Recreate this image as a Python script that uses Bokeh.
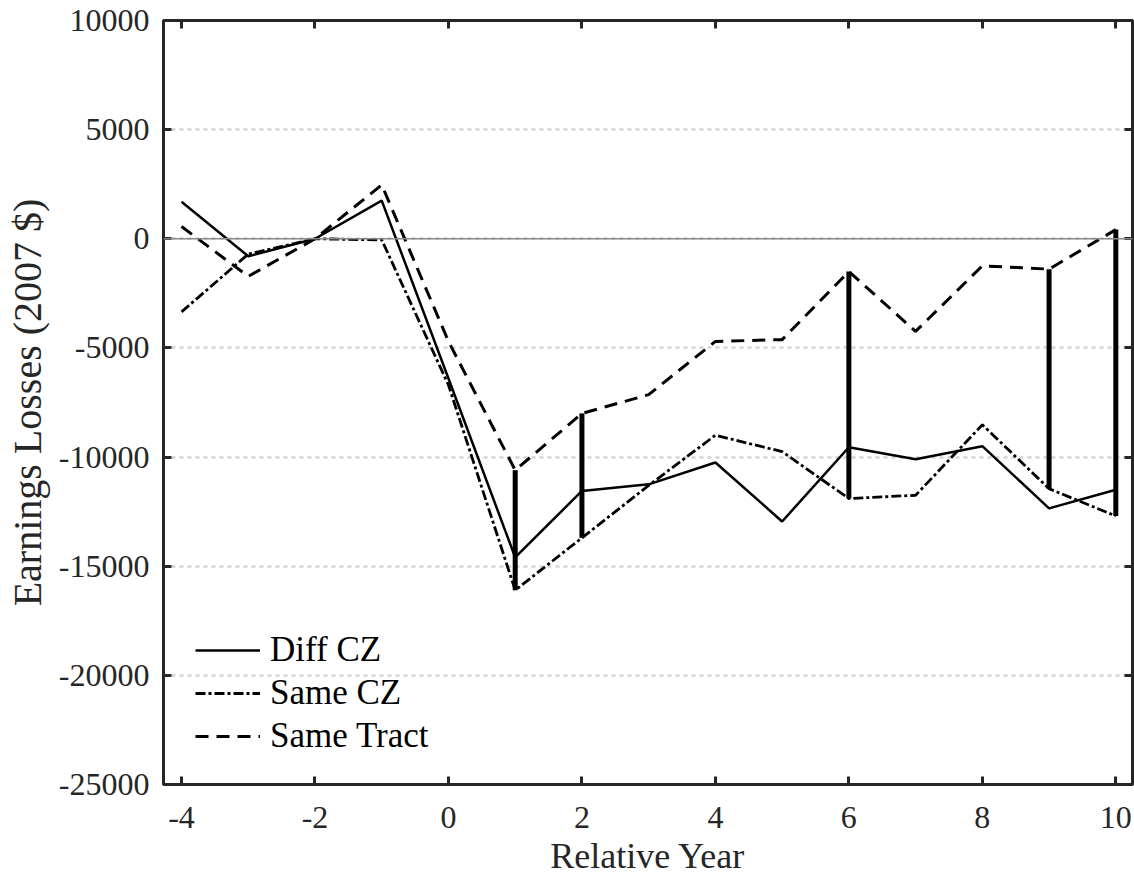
from bokeh.plotting import figure
from bokeh.models import Range1d, LinearAxis, Span, Legend, LegendItem, FixedTicker
from bokeh.embed import file_html
from bokeh.resources import INLINE

# ---- data ----
years = [-4, -3, -2, -1, 0, 1, 2, 3, 4, 5, 6, 7, 8, 9, 10]
diff_cz = [1700, -800, 0, 1750, -6400, -14600, -11550, -11250, -10250, -12950,
           -9550, -10100, -9500, -12350, -11500]
same_cz = [-3350, -700, 0, -50, -6700, -16100, -13700, -11300, -9000, -9750,
           -11900, -11750, -8520, -11450, -12700]
same_tract = [560, -1720, 0, 2470, -4700, -10600, -8000, -7140, -4700, -4620,
              -1500, -4240, -1240, -1390, 420]
sig_years = [1, 2, 6, 9, 10]

x_ticks = [-4, -2, 0, 2, 4, 6, 8, 10]
y_ticks = [-25000, -20000, -15000, -10000, -5000, 0, 5000, 10000]
x_tick_labels = [str(v) for v in x_ticks]
y_tick_labels = [str(v) for v in y_ticks]

FONT = "Liberation Serif"
TXT = "#262626"
FS = "32px"

p = figure(width=1134, height=878, output_backend="svg", toolbar_location=None,
           x_range=Range1d(-4.27, 10.25), y_range=Range1d(-25000, 10000),
           min_border_left=163, min_border_right=2, min_border_top=20,
           min_border_bottom=94, x_axis_label="Relative Year",
           y_axis_label="Earnings Losses (2007 $)")
p.background_fill_color = "white"
p.border_fill_color = "white"
p.outline_line_color = TXT
p.outline_line_width = 3
p.outline_line_alpha = 1

p.xgrid.grid_line_color = None
p.ygrid.grid_line_color = "#d4d4d4"
p.ygrid.grid_line_width = 2.5
p.ygrid.grid_line_dash = "4 4"
p.ygrid.ticker = FixedTicker(ticks=y_ticks)

p.add_layout(Span(location=0, dimension="width", line_color="#8a8a8a", line_width=1.5))

def style_axis(ax, ticks, labels, show):
    ax.ticker = FixedTicker(ticks=ticks)
    ax.major_label_overrides = {t: (l if show else "") for t, l in zip(ticks, labels)}
    ax.axis_line_color = TXT
    ax.axis_line_width = 3
    ax.major_tick_line_color = TXT
    ax.major_tick_line_width = 3
    ax.major_tick_in = 8
    ax.major_tick_out = 0
    ax.minor_tick_line_color = None
    ax.major_label_text_font = FONT
    ax.major_label_text_font_size = FS if show else "0px"
    ax.major_label_text_color = TXT
    ax.axis_label_text_font = FONT
    ax.axis_label_text_font_size = FS
    ax.axis_label_text_font_style = "normal"
    ax.axis_label_text_color = TXT

style_axis(p.xaxis[0], x_ticks, x_tick_labels, True)
style_axis(p.yaxis[0], y_ticks, y_tick_labels, True)
p.xaxis[0].major_label_standoff = 22
p.xaxis[0].axis_label_standoff = 5
p.xaxis[0].axis_label_text_font_size = "36px"
p.yaxis[0].major_label_standoff = 14
p.yaxis[0].axis_label_standoff = 6
p.yaxis[0].axis_label_text_font_size = "40px"

top = LinearAxis()
right = LinearAxis()
style_axis(top, x_ticks, x_tick_labels, False)
style_axis(right, y_ticks, y_tick_labels, False)
top.major_label_standoff = 0
right.major_label_standoff = 0
p.add_layout(top, "above")
p.add_layout(right, "right")

# significance bars between Same CZ and Same Tract
bx = [years.index(v) for v in sig_years]
p.segment(x0=sig_years, x1=sig_years,
          y0=[same_cz[i] for i in bx], y1=[same_tract[i] for i in bx],
          line_color="black", line_width=5)

r1 = p.line(years, diff_cz, line_color="black", line_width=2.5)
r2 = p.line(years, same_cz, line_color="black", line_width=2.8, line_dash="10 3 3 3")
r3 = p.line(years, same_tract, line_color="black", line_width=3, line_dash="13 8")

legend = Legend(items=[LegendItem(label="Diff CZ", renderers=[r1]),
                       LegendItem(label="Same CZ", renderers=[r2]),
                       LegendItem(label="Same Tract", renderers=[r3])],
                location=(32, 28), padding=0, margin=0, spacing=3,
                glyph_width=65, glyph_height=40, label_height=40,
                label_standoff=10, border_line_color=None,
                background_fill_alpha=0,
                label_text_font=FONT, label_text_font_size="35px",
                label_text_color="black")
p.add_layout(legend)

open("out.html", "w").write(file_html(p, INLINE))
